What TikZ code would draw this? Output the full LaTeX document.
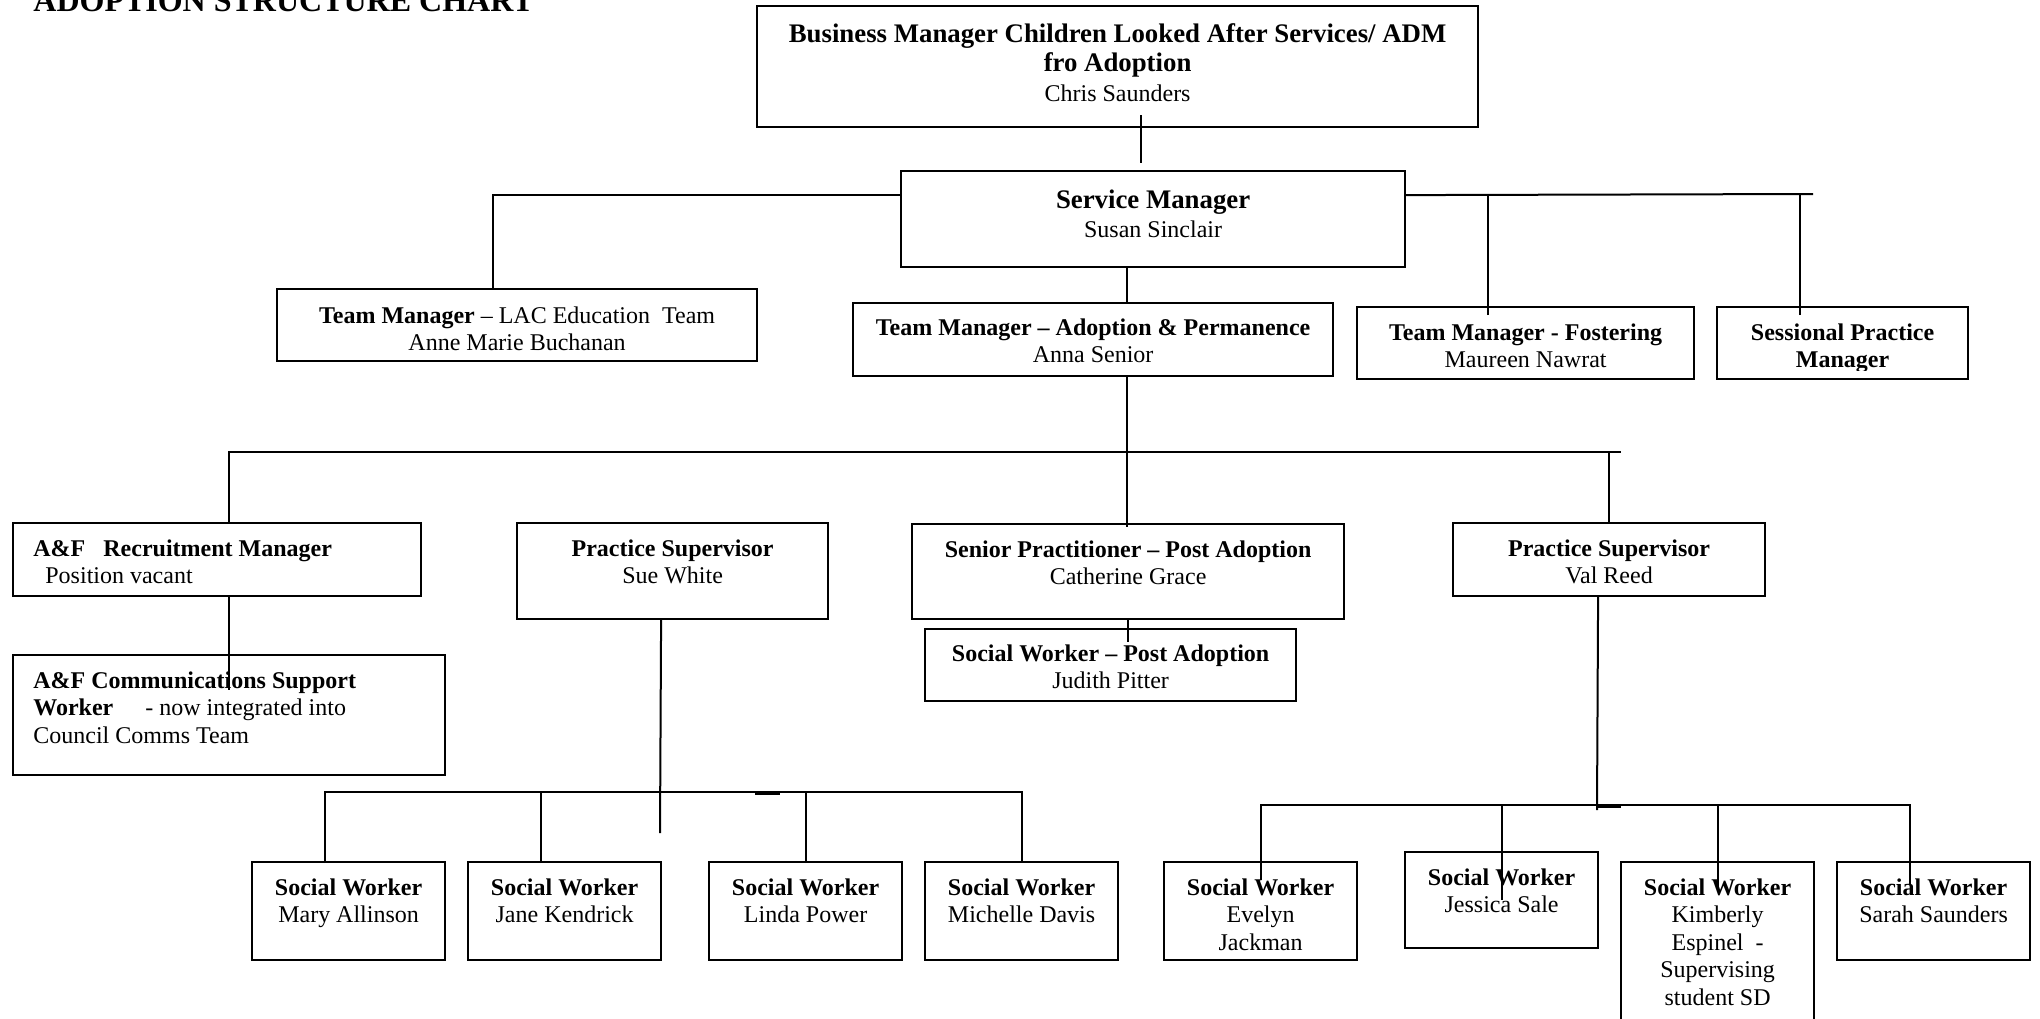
\documentclass[tikz,border=0pt]{standalone}
\usepackage{fontspec}
\setmainfont{Liberation Serif}

\begin{document}
\begin{tikzpicture}[x=0.5pt, y=-0.5pt,
    post/.style={draw, line width=1.1pt, inner sep=0pt, anchor=north west},
    worker/.style={post, minimum width=96.5pt, minimum height=49pt},
    posttext/.style={align=center, inner sep=0pt, anchor=north, font=\fontsize{12}{13.75}\selectfont},
    headtext/.style={posttext, font=\fontsize{13.4}{14.8}\selectfont},
    link/.style={line width=1pt}]

        % Page size, 1 unit = 1 pixel of the chart
        \useasboundingbox (0,0) rectangle (2040,1018);
        \fill[white] (0,0) rectangle (2040,1018);

        % Add the title
        \node[anchor=base west, inner sep=0pt, font=\fontsize{16}{18}\selectfont\bfseries] (title) at (33,11) {ADOPTION STRUCTURE CHART};

        % Draw the boxes
        \node[post, minimum width=360.5pt, minimum height=60.5pt] (bm) at (756,5) {};
        \node[post, minimum width=252pt, minimum height=48pt] (sm) at (900,170) {};
        \node[post, minimum width=240pt, minimum height=36pt] (lac) at (276,288) {};
        \node[post, minimum width=240pt, minimum height=36.5pt] (ap) at (852,302) {};
        \node[post, minimum width=168.5pt, minimum height=36pt] (fos) at (1356,306) {};
        \node[post, minimum width=125.5pt, minimum height=36pt] (ses) at (1716,306) {};
        \node[post, minimum width=204pt, minimum height=36.5pt] (rec) at (12,522) {};
        \node[post, minimum width=216pt, minimum height=60pt] (comms) at (12,654) {};
        \node[post, minimum width=155.5pt, minimum height=48pt] (sue) at (516,522) {};
        \node[post, minimum width=216pt, minimum height=47.5pt] (sp) at (911,523) {};
        \node[post, minimum width=185.5pt, minimum height=36pt] (swpa) at (924,628) {};
        \node[post, minimum width=156pt, minimum height=36.5pt] (val) at (1452,522) {};

        % Add the text in the boxes
        \node[headtext] (bm-t) at ([yshift=-9pt]bm.north) {\textbf{Business Manager Children Looked After Services/ ADM}\\\textbf{fro Adoption}\\{\fontsize{12}{14}\selectfont Chris Saunders}};
        \node[headtext] (sm-t) at ([yshift=-9.5pt]sm.north) {\textbf{Service Manager}\\{\fontsize{12}{14}\selectfont Susan Sinclair}};
        \node[posttext] (lac-t) at ([yshift=-9pt]lac.north) {\textbf{Team Manager} – LAC Education\ \ Team\\Anne Marie Buchanan};
        \node[posttext] (ap-t) at ([yshift=-8pt]ap.north) {\textbf{Team Manager – Adoption \& Permanence}\\Anna Senior};
        \node[posttext] (fos-t) at ([yshift=-8.5pt]fos.north) {\textbf{Team Manager - Fostering}\\Maureen Nawrat};
        \begin{scope}
            \clip (ses.north west) rectangle ([yshift=5pt]ses.south east);
            \node[posttext] (ses-t) at ([yshift=-8.5pt]ses.north) {\textbf{Sessional Practice}\\\textbf{Manager}};
        \end{scope}
        \node[posttext, anchor=north west, align=left] (rec-t) at ([xshift=10.5pt,yshift=-8.5pt]rec.north west) {\textbf{A\&F\ \ \ Recruitment Manager}\\\hspace*{6pt}Position vacant};
        \node[posttext, anchor=north west, align=left] (comms-t) at ([xshift=10.5pt,yshift=-8.5pt]comms.north west) {\textbf{A\&F Communications Support}\\\textbf{Worker}\hspace{16pt}- now integrated into\\Council Comms Team};
        \node[posttext] (sue-t) at ([yshift=-8.5pt]sue.north) {\textbf{Practice Supervisor}\\Sue White};
        \node[posttext] (sp-t) at ([yshift=-8.5pt]sp.north) {\textbf{Senior Practitioner – Post Adoption}\\Catherine Grace};
        \node[posttext] (swpa-t) at ([yshift=-8pt]swpa.north) {\textbf{Social Worker – Post Adoption}\\Judith Pitter};
        \node[posttext] (val-t) at ([yshift=-8.5pt]val.north) {\textbf{Practice Supervisor}\\Val Reed};

        % Add the social workers
        \foreach \n/\x/\y/\h/\who in {1/251/861/49/Mary Allinson, 2/467/861/49/Jane Kendrick, 3/708/861/49/Linda Power, 4/924/861/49/Michelle Davis, 5/1163/861/49/Evelyn\\Jackman, 6/1404/851/48/Jessica Sale, 7/1620/861/90/Kimberly\\Espinel\ \ -\\Supervising\\student SD, 8/1836/861/49/Sarah Saunders} {
            \node[worker, minimum height=\h pt] (sw\n) at (\x,\y) {};
            \node[posttext] (sw\n-t) at ([yshift=-8.5pt]sw\n.north) {\textbf{Social Worker}\\\who};
        }

        % Draw the lines between the boxes
        \coordinate (top-end) at (1813,194);
        \coordinate (mid-end) at (1621,452);
        \coordinate (sue-bar) at (660,792);
        \coordinate (sue-end) at (660,833);
        \coordinate (val-bar) at (1597,805);
        \coordinate (val-end) at (1597,810);

        \draw[link] ([xshift=11.75pt,yshift=6.5pt]bm.south) -- ([xshift=-6pt,yshift=3.5pt]sm.north);
        \draw[link] ([yshift=12pt]sm.west) -| ([xshift=-12pt]lac.north);
        \draw[link] ([yshift=12pt]sm.east) -- (top-end);
        \draw[link] ([xshift=-18.75pt,yshift=-4.5pt]fos.north) -- ([xshift=-18.75pt]fos.north |- top-end);
        \draw[link] ([xshift=-21.25pt,yshift=-4.5pt]ses.north) -- ([xshift=-21.25pt]ses.north |- top-end);
        \draw[link] ([xshift=-13pt]sm.south) -- ([xshift=17pt]ap.north);
        \draw[link] ([xshift=17pt]ap.south) -- ([xshift=17pt,yshift=-2pt]ap.south |- sp.north);

        \draw[link] ([xshift=6pt]rec.north) |- (mid-end);
        \draw[link] (val.north) -- (val.north |- mid-end);
        \draw[link] ([xshift=6pt]rec.south) -- ([yshift=-18pt]comms.north);
        \draw[link] (sp.south) -- ([xshift=8.75pt,yshift=-7pt]swpa.north);

        \draw[link] ([xshift=-5.75pt]sue.south) -- (sue-end);
        \draw[link] ([xshift=-11.75pt,yshift=-1pt]sw1.north) |- (sue-bar) -| ([yshift=-1pt]sw4.north);
        \draw[link] ([xshift=-11.75pt,yshift=-1pt]sw2.north) -- ([xshift=-11.75pt]sw2.north |- sue-bar);
        \draw[link] ([yshift=-1pt]sw3.north) -- (sw3.north |- sue-bar);
        \draw[line width=2pt] ([xshift=47.5pt,yshift=-0.5pt]sue-bar) -- ++(25,0);

        \draw[link] ([xshift=-5.5pt]val.south) -- (val-end);
        \draw[link] ([yshift=-9.5pt]sw5.north) |- (val-bar) -| ([xshift=-12pt,yshift=-12pt]sw8.north);
        \draw[link] ([yshift=-24.5pt]sw6.north) -- (sw6.north |- val-bar);
        \draw[link] ([yshift=-13.5pt]sw7.north) -- (sw7.north |- val-bar);
        \draw[line width=2pt] ([yshift=-0.5pt]val-bar) -- ++(24,0);
    \end{tikzpicture}
\end{document}
